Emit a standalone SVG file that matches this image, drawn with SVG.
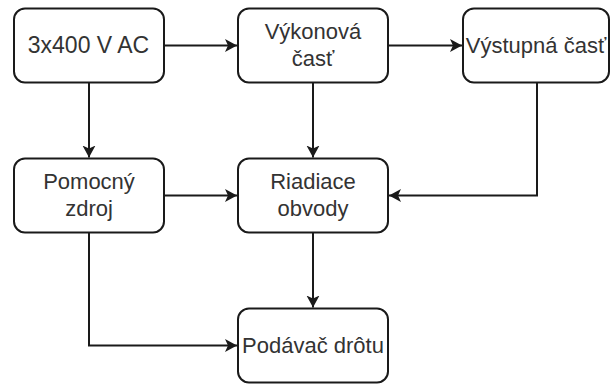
<svg xmlns="http://www.w3.org/2000/svg" width="610" height="385" viewBox="0 0 610 385">
<style>
.box{fill:#fff;stroke:#1a1a1a;stroke-width:2}
.lbl{font-family:"Liberation Sans",Arial,sans-serif;font-size:22px;fill:#333;text-anchor:middle}
.edge{fill:none;stroke:#1a1a1a;stroke-width:2}
</style>
<defs>
<marker id="arr" markerUnits="userSpaceOnUse" markerWidth="14" markerHeight="14" refX="12" refY="6.5" orient="auto" viewBox="0 0 14 14">
<path d="M0,0 L12,6.5 L0,13 L3,6.5 Z" fill="#1a1a1a"/>
</marker>
</defs>
<rect width="610" height="385" fill="#fff"/>
<g id="connectors">
<path class="edge" d="M164,45.5 H237" marker-end="url(#arr)"/>
<path class="edge" d="M388,45.5 H462" marker-end="url(#arr)"/>
<path class="edge" d="M89,82.5 V157.5" marker-end="url(#arr)"/>
<path class="edge" d="M313,82.5 V157.5" marker-end="url(#arr)"/>
<path class="edge" d="M537,82.5 V195.5 H389" marker-end="url(#arr)"/>
<path class="edge" d="M164,195.5 H237" marker-end="url(#arr)"/>
<path class="edge" d="M313,232.5 V307.5" marker-end="url(#arr)"/>
<path class="edge" d="M89,232.5 V345.5 H237" marker-end="url(#arr)"/>
</g>
<g id="n1">
<rect class="box" x="14" y="8.5" width="150" height="74" rx="11"/>
<text class="lbl" x="88.5" y="53" style="font-size:23px">3x400 V AC</text>
</g>
<g id="n2">
<rect class="box" x="238" y="8.5" width="150" height="74" rx="11"/>
<text class="lbl" x="313" y="39">Výkonová</text>
<text class="lbl" x="313" y="66">časť</text>
</g>
<g id="n3">
<rect class="box" x="463" y="8.5" width="146" height="74" rx="11"/>
<text class="lbl" x="536" y="53">Výstupná časť</text>
</g>
<g id="n4">
<rect class="box" x="14" y="158.5" width="150" height="74" rx="11"/>
<text class="lbl" x="89" y="189">Pomocný</text>
<text class="lbl" x="89" y="216">zdroj</text>
</g>
<g id="n5">
<rect class="box" x="238" y="158.5" width="150" height="74" rx="11"/>
<text class="lbl" x="313" y="189">Riadiace</text>
<text class="lbl" x="313" y="216">obvody</text>
</g>
<g id="n6">
<rect class="box" x="238" y="308.5" width="150" height="74" rx="11"/>
<text class="lbl" x="313" y="353">Podávač drôtu</text>
</g>
</svg>
